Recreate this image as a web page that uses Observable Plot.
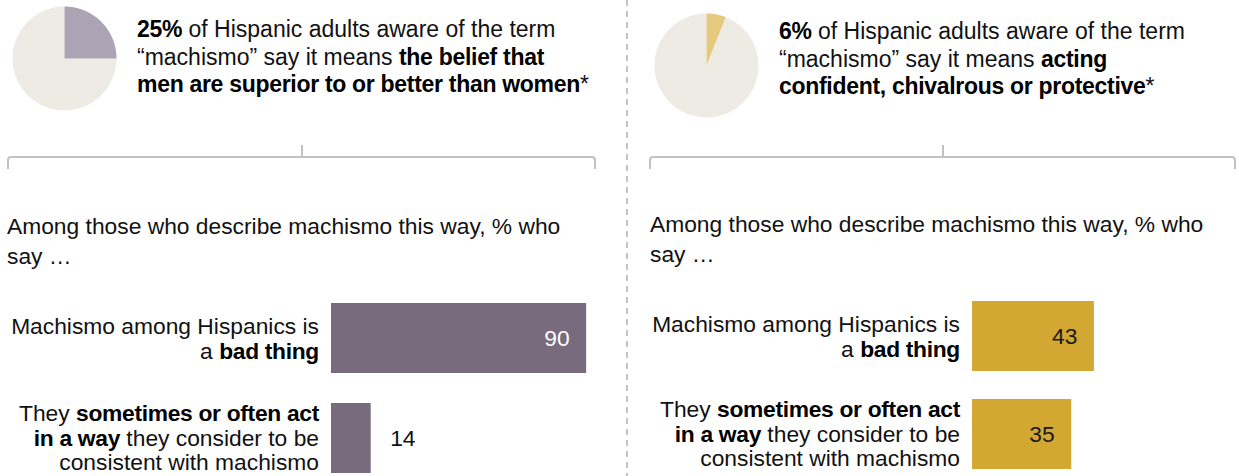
<!DOCTYPE html>
<html><head><meta charset="utf-8">
<script src="https://cdn.jsdelivr.net/npm/d3@7"></script>
<script src="https://cdn.jsdelivr.net/npm/@observablehq/plot@0.6"></script>
<style>
html,body{margin:0;padding:0;background:#fff;}
#root{position:relative;width:1239px;height:476px;overflow:hidden;font-family:"Liberation Sans",Arial,sans-serif;color:#111;}
.abs{position:absolute;}
.title{font-size:23px;line-height:27.5px;white-space:nowrap;}
.sub{font-size:22.8px;line-height:30px;white-space:nowrap;}
.lab{font-size:22.8px;line-height:24.5px;white-space:nowrap;text-align:right;transform:translate(-100%,-50%);}
b{font-weight:bold;color:#000;letter-spacing:-0.3px;}
.brk{box-sizing:border-box;border:2px solid #c2c2c2;border-bottom:none;border-radius:4px 4px 0 0;}
.tick{background:#c2c2c2;width:2px;}
</style></head><body><div id="root"></div>
<script>
// ---- data ----
const pieShares = [25, 6];
const pieColors = ["#aca3b4", "#e4c97f"];
const pieRestColor = "#eeebe4";
const titles = [
  "<b>25%</b> of Hispanic adults aware of the term<br>“machismo” say it means <b>the belief that<br>men are superior to or better than women</b>*",
  "<b>6%</b> of Hispanic adults aware of the term<br>“machismo” say it means <b>acting<br>confident, chivalrous or protective</b>*"
];
const subtitle = "Among those who describe machismo this way, % who<br>say …";
const categories = ["Machismo among Hispanics is a bad thing", "They sometimes or often act in a way they consider to be consistent with machismo"];
const categoryLabels = [
  "Machismo among Hispanics is<br>a <b>bad thing</b>",
  "They <b>sometimes or often act<br>in a way</b> they consider to be<br>consistent with machismo"
];
const leftValues = [90, 14];
const rightValues = [43, 35];
const barColors = ["#786b7d", "#d3a832"];
const insideLabelColors = ["#ffffff", "#1a1a1a"];

// ---- layout ----
const root = document.getElementById("root");
const panels = [
  {left: 0, width: 620, pie: [12, 6], title: [137, 16], sub: [7, 211], bracket: [7, 596, 301.5], barTop: 288, step: 100, barStart: 331, values: leftValues},
  {left: 620, width: 619, pie: [654, 13], title: [779, 18], sub: [650, 209], bracket: [649, 1236, 942.5], barTop: 287, step: 98, barStart: 972, values: rightValues}
];

function addDiv(cls, html, x, y, extra) {
  const d = document.createElement("div");
  d.className = "abs " + cls;
  d.innerHTML = html || "";
  d.style.left = x + "px"; d.style.top = y + "px";
  if (extra) Object.assign(d.style, extra);
  root.appendChild(d);
  return d;
}

function piePlot(share, color) {
  const a1 = share / 100 * 2 * Math.PI;
  const N = 180;
  const slice = [{x: 0, y: 0}], rest = [{x: 0, y: 0}];
  for (let i = 0; i <= N; i++) {
    const a = a1 * i / N;
    slice.push({x: Math.sin(a), y: Math.cos(a)});
    const b = a1 + (2 * Math.PI - a1) * i / N;
    rest.push({x: Math.sin(b), y: Math.cos(b)});
  }
  return Plot.plot({
    width: 104, height: 104, margin: 0,
    x: {domain: [-1, 1], axis: null},
    y: {domain: [-1, 1], axis: null},
    style: {background: "transparent", overflow: "visible"},
    marks: [
      Plot.line(rest, {x: "x", y: "y", fill: pieRestColor, stroke: "none"}),
      Plot.line(slice, {x: "x", y: "y", fill: color, stroke: "none"})
    ]
  });
}

function barPlot(p, idx) {
  const data = categories.map((c, i) => ({cat: c, value: p.values[i]}));
  const bw = 70;
  const height = p.step * 2;
  const inner = (p.step - bw) / p.step;
  const xr = p.barStart - p.left;
  const inside = d => d.value >= 30;
  return Plot.plot({
    width: p.width, height, marginTop: 0, marginBottom: 0, marginLeft: 0, marginRight: 0,
    x: {domain: [0, 100], range: [xr, xr + 283.5], axis: null},
    y: {domain: categories, range: [0, height], paddingInner: inner, paddingOuter: inner / 2, axis: null},
    style: {background: "transparent", overflow: "visible", fontFamily: "'Liberation Sans', Arial, sans-serif"},
    marks: [
      Plot.barX(data, {y: "cat", x: "value", fill: barColors[idx]}),
      Plot.text(data.filter(inside), {y: "cat", x: "value", text: d => String(d.value), textAnchor: "end", dx: -17, fill: insideLabelColors[idx], fontSize: 22.8}),
      Plot.text(data.filter(d => !inside(d)), {y: "cat", x: "value", text: d => String(d.value), textAnchor: "start", dx: 19, fill: "#111", fontSize: 22.8})
    ]
  });
}

// divider
addDiv("", "", 626, 0, {width: "2px", height: "476px", background: "repeating-linear-gradient(to bottom, #c4c4c4 0 6px, transparent 6px 11px)"});

panels.forEach((p, idx) => {
  const pie = piePlot(pieShares[idx], pieColors[idx]);
  pie.style.position = "absolute"; pie.style.left = p.pie[0] + "px"; pie.style.top = p.pie[1] + "px";
  root.appendChild(pie);

  addDiv("title", titles[idx], p.title[0], p.title[1]);

  const [bl, br, bt] = p.bracket;
  addDiv("brk", "", bl, 156, {width: (br - bl) + "px", height: "13px"});
  addDiv("tick", "", bt - 1, 145, {height: "12px"});

  addDiv("sub", subtitle, p.sub[0], p.sub[1]);

  const chart = barPlot(p, idx);
  chart.style.position = "absolute"; chart.style.left = p.left + "px"; chart.style.top = p.barTop + "px";
  root.appendChild(chart);

  const ys = chart.scale("y");
  const xs = chart.scale("x");
  categories.forEach((c, i) => {
    const cy = p.barTop + ys.apply(c) + ys.bandwidth / 2;
    const rx = p.left + xs.apply(0) - 12;
    addDiv("lab", categoryLabels[i], rx, cy);
  });
});
</script></body></html>
